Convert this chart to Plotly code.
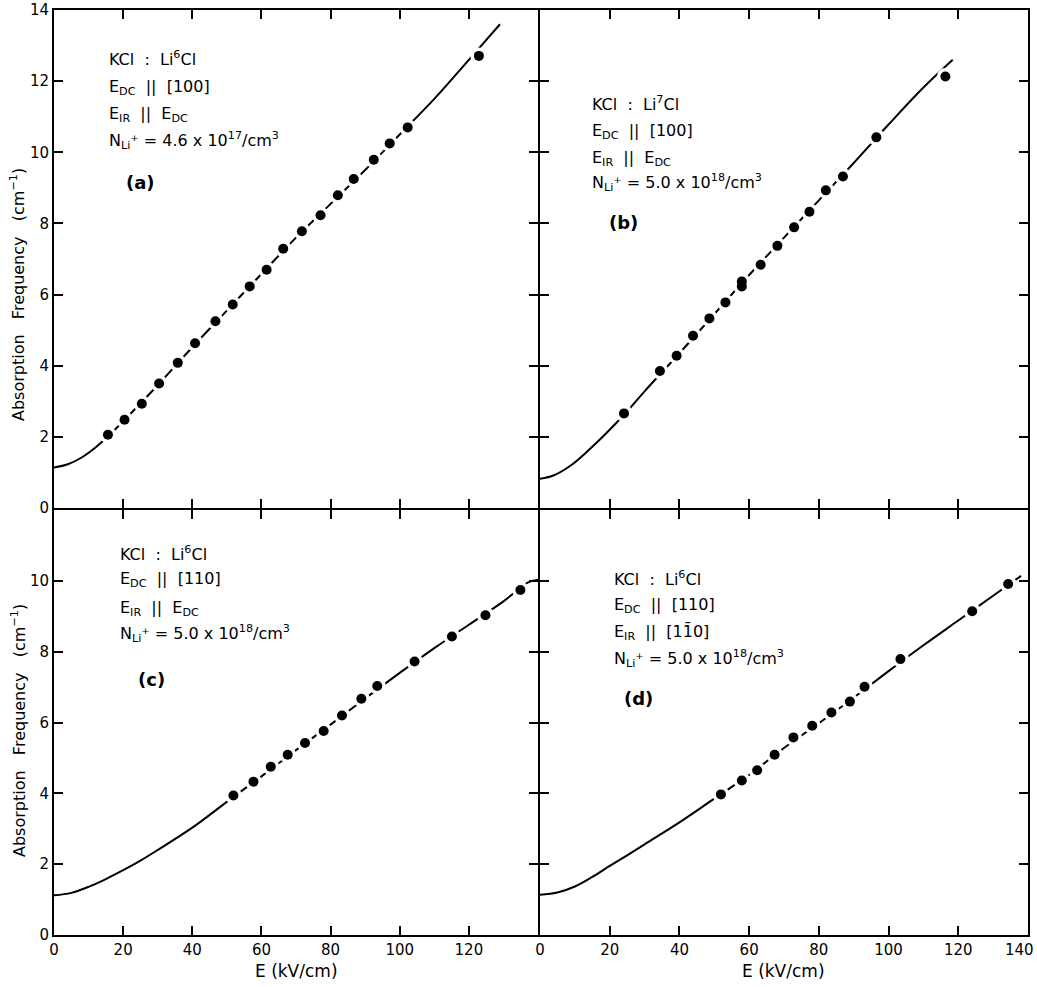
import plotly.graph_objects as go

# ---------------- data ----------------
# panel (a)  KCl:Li6Cl, E_DC || [100], E_IR || E_DC
a_x = [15.6, 20.4, 25.4, 30.4, 35.8, 40.8, 46.7, 51.7, 56.6, 61.5, 66.3, 71.7, 77.1, 82.1, 86.7, 92.5, 97.1, 102.3, 122.9]
a_y = [2.06, 2.48, 2.93, 3.50, 4.08, 4.63, 5.25, 5.72, 6.23, 6.70, 7.29, 7.78, 8.23, 8.79, 9.25, 9.79, 10.25, 10.70, 12.71]
a_curve_x = [0, 4, 8, 12, 16, 20, 25, 30, 40, 50, 60, 70, 80, 90, 100, 110, 120, 129]
a_curve_y = [1.14, 1.23, 1.42, 1.7, 2.05, 2.44, 2.94, 3.45, 4.52, 5.55, 6.58, 7.6, 8.55, 9.5, 10.5, 11.5, 12.6, 13.6]

# panel (b)  KCl:Li7Cl, E_DC || [100], E_IR || E_DC
b_x = [24.1, 34.4, 39.2, 43.9, 48.6, 53.2, 57.9, 57.9, 63.3, 68.1, 72.9, 77.3, 82.0, 86.9, 96.5, 116.3]
b_y = [2.66, 3.85, 4.28, 4.84, 5.33, 5.78, 6.37, 6.23, 6.84, 7.37, 7.89, 8.33, 8.93, 9.32, 10.42, 12.13]
b_curve_x = [0, 4, 9, 14, 19, 25, 30, 40, 50, 60, 70, 80, 90, 100, 110, 118.4]
b_curve_y = [0.82, 0.92, 1.21, 1.63, 2.1, 2.72, 3.28, 4.35, 5.45, 6.55, 7.6, 8.65, 9.7, 10.78, 11.82, 12.6]

# panel (c)  KCl:Li6Cl, E_DC || [110], E_IR || E_DC
c_x = [51.9, 57.7, 62.7, 67.6, 72.6, 78.0, 83.3, 88.9, 93.5, 104.3, 115.1, 124.8, 134.9]
c_y = [3.94, 4.33, 4.75, 5.09, 5.42, 5.76, 6.20, 6.67, 7.03, 7.72, 8.43, 9.03, 9.74]
c_curve_x = [0, 5, 10, 15, 20, 25, 30, 40, 50, 60, 70, 80, 90, 100, 110, 120, 130, 137, 140]
c_curve_y = [1.12, 1.19, 1.36, 1.58, 1.83, 2.1, 2.4, 3.03, 3.76, 4.48, 5.22, 5.94, 6.68, 7.4, 8.1, 8.76, 9.42, 9.95, 10.03]

# panel (d)  KCl:Li6Cl, E_DC || [110], E_IR || [1-10]
d_x = [51.9, 57.9, 62.3, 67.3, 72.7, 78.1, 83.6, 88.9, 93.1, 103.4, 124.0, 134.3]
d_y = [3.97, 4.36, 4.65, 5.09, 5.58, 5.91, 6.28, 6.59, 7.01, 7.79, 9.14, 9.91]
d_curve_x = [0, 5, 10, 15, 20, 25, 30, 40, 50, 60, 70, 80, 90, 100, 110, 120, 130, 138]
d_curve_y = [1.14, 1.2, 1.37, 1.64, 1.95, 2.25, 2.56, 3.18, 3.85, 4.52, 5.28, 5.98, 6.7, 7.45, 8.18, 8.88, 9.58, 10.14]

x_ticks = [0, 20, 40, 60, 80, 100, 120, 140]
y_ticks_top = [0, 2, 4, 6, 8, 10, 12, 14]
y_ticks_bot = [0, 2, 4, 6, 8, 10, 12]

labels_a = ["KCl  :  Li<sup>6</sup>Cl", "E<sub>DC</sub>  ||  [100]", "E<sub>IR</sub>  ||  E<sub>DC</sub>",
            "N<sub>Li</sub>⁺ = 4.6 x 10<sup>17</sup>/cm<sup>3</sup>", "(a)"]
labels_b = ["KCl  :  Li<sup>7</sup>Cl", "E<sub>DC</sub>  ||  [100]", "E<sub>IR</sub>  ||  E<sub>DC</sub>",
            "N<sub>Li</sub>⁺ = 5.0 x 10<sup>18</sup>/cm<sup>3</sup>", "(b)"]
labels_c = ["KCl  :  Li<sup>6</sup>Cl", "E<sub>DC</sub>  ||  [110]", "E<sub>IR</sub>  ||  E<sub>DC</sub>",
            "N<sub>Li</sub>⁺ = 5.0 x 10<sup>18</sup>/cm<sup>3</sup>", "(c)"]
labels_d = ["KCl  :  Li<sup>6</sup>Cl", "E<sub>DC</sub>  ||  [110]", "E<sub>IR</sub>  ||  [11\u03040]",
            "N<sub>Li</sub>⁺ = 5.0 x 10<sup>18</sup>/cm<sup>3</sup>", "(d)"]

# ---------------- layout geometry ----------------
W, H = 1037, 987
L, R, T, B = 54, 9, 10, 52
PW, PH = W - L - R, H - T - B
FONT = "DejaVu Sans"


def px(xp):
    return (xp - L) / PW


def py(yp):
    return (H - B - yp) / PH


# shared borders: centre of the dividing lines at x=539, y=509
XA_END, XB_START = px(538), px(540)
YA_START, YC_END = py(508), py(510)

fig = go.Figure()

panels = [
    ("x", "y", a_x, a_y, a_curve_x, a_curve_y),
    ("x2", "y2", b_x, b_y, b_curve_x, b_curve_y),
    ("x3", "y3", c_x, c_y, c_curve_x, c_curve_y),
    ("x4", "y4", d_x, d_y, d_curve_x, d_curve_y),
]
for xa, ya, xs, ys, cx, cy in panels:
    fig.add_trace(go.Scatter(x=cx, y=cy, mode="lines", xaxis=xa, yaxis=ya,
                             line=dict(color="black", width=2, shape="spline", smoothing=1.0),
                             showlegend=False, hoverinfo="skip"))
    # white halo that breaks the curve around each point
    fig.add_trace(go.Scatter(x=xs, y=ys, mode="markers", xaxis=xa, yaxis=ya,
                             marker=dict(color="white", size=17, line=dict(width=0)),
                             showlegend=False, hoverinfo="skip"))
    fig.add_trace(go.Scatter(x=xs, y=ys, mode="markers", xaxis=xa, yaxis=ya,
                             marker=dict(color="black", size=10, line=dict(width=0)),
                             showlegend=False))

common = dict(showline=True, linecolor="black", linewidth=2, mirror="ticks",
              ticks="inside", ticklen=9, tickwidth=1.5, tickcolor="black",
              showgrid=False, zeroline=False, ticklabeloverflow="allow", automargin=False,
              tickfont=dict(family=FONT, size=15, color="black"))

fig.update_layout(
    template="none",
    width=W, height=H, autosize=False,
    margin=dict(l=L, r=R, t=T, b=B, autoexpand=False),
    paper_bgcolor="white", plot_bgcolor="white",
    xaxis=dict(common, domain=[0, XA_END], range=[0, 140], anchor="y", tickvals=x_ticks, showticklabels=False),
    yaxis=dict(common, domain=[YA_START, 1], range=[0, 14], anchor="x", tickvals=y_ticks_top),
    xaxis2=dict(common, domain=[XB_START, 1], range=[0, 140], anchor="y2", tickvals=x_ticks, showticklabels=False),
    yaxis2=dict(common, domain=[YA_START, 1], range=[0, 14], anchor="x2", tickvals=y_ticks_top, showticklabels=False),
    xaxis3=dict(common, domain=[0, XA_END], range=[0, 140], anchor="y3", tickvals=x_ticks,
                ticktext=[str(v) if v < 140 else "" for v in x_ticks]),
    yaxis3=dict(common, domain=[0, YC_END], range=[0, 12], anchor="x3", tickvals=y_ticks_bot,
                ticktext=[str(v) if v < 12 else "" for v in y_ticks_bot]),
    xaxis4=dict(common, domain=[XB_START, 1], range=[0, 140], anchor="y4", tickvals=x_ticks,
                ticktext=[str(v) if v < 140 else "" for v in x_ticks]),
    yaxis4=dict(common, domain=[0, YC_END], range=[0, 12], anchor="x4", tickvals=y_ticks_bot, showticklabels=False),
)

ann = []


def add_block(labels, left, ys, lab_x, lab_y):
    for text, yy in zip(labels[:4], ys):
        ann.append(dict(text=text, x=px(left), y=py(yy), xref="paper", yref="paper",
                        xanchor="left", yanchor="middle", showarrow=False,
                        font=dict(family=FONT, size=16, color="black")))
    ann.append(dict(text="<b>" + labels[4] + "</b>", x=px(lab_x), y=py(lab_y), xref="paper", yref="paper",
                    xanchor="left", yanchor="middle", showarrow=False,
                    font=dict(family=FONT, size=18, color="black")))


add_block(labels_a, 107, [58, 87, 115, 140], 124, 183)
add_block(labels_b, 590, [104, 131, 158, 183], 607, 222)
add_block(labels_c, 118, [553, 580, 608, 633], 136, 680)
add_block(labels_d, 612, [578, 605, 632, 658], 622, 698)

# last x tick label of panel (d), kept inside the picture edge as in the reference
ann.append(dict(text=str(x_ticks[-1]), x=px(1036), y=py(950), xref="paper", yref="paper",
                xanchor="right", yanchor="middle", showarrow=False,
                font=dict(family=FONT, size=15, color="black")))

ytitle = "Absorption   Frequency   (cm<sup>−1</sup>)"
for yy in (295, 731):
    ann.append(dict(text=ytitle, x=px(18), y=py(yy), xref="paper", yref="paper",
                    xanchor="center", yanchor="middle", textangle=-90, showarrow=False,
                    font=dict(family=FONT, size=16, color="black")))
for xx in (296, 783):
    ann.append(dict(text="E (kV/cm)", x=px(xx), y=py(971), xref="paper", yref="paper",
                    xanchor="center", yanchor="middle", showarrow=False,
                    font=dict(family=FONT, size=17, color="black")))

fig.update_layout(annotations=ann)
fig.write_html("out.html", config={"displayModeBar": False},
               post_script="document.body.style.margin='0';document.body.style.overflow='hidden';")
